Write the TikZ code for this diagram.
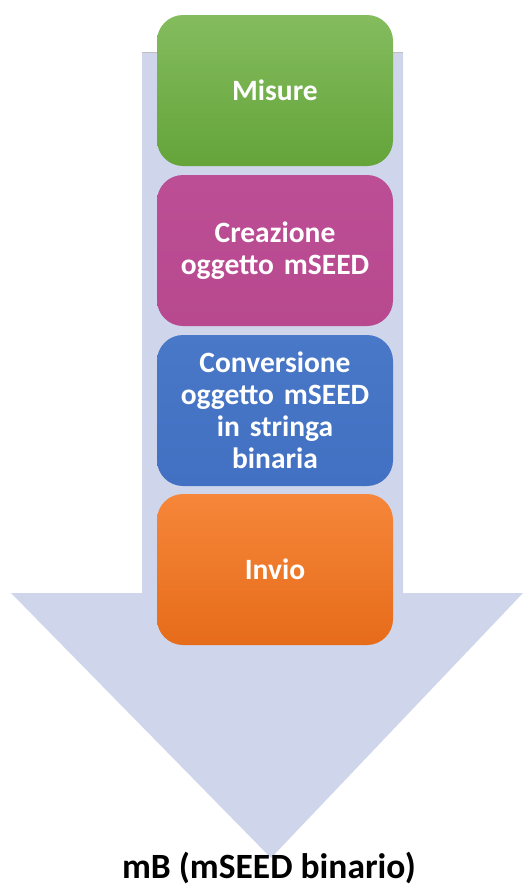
\documentclass[tikz,border=0pt]{standalone}
\usepackage{fontspec}
\setmainfont{Carlito}
\definecolor{arrowfill}{HTML}{CFD5EA}
\definecolor{gtop}{HTML}{84BC5E}
\definecolor{gbot}{HTML}{64A43A}
\definecolor{ptop}{HTML}{BC4E95}
\definecolor{pbot}{HTML}{B8498F}
\definecolor{btop}{HTML}{4A78C8}
\definecolor{bbot}{HTML}{4270C2}
\definecolor{otop}{HTML}{F6863A}
\definecolor{obot}{HTML}{E66C1A}
\tikzset{
  stepbox/.style={rounded corners=26pt, minimum width=236pt, minimum height=151pt,
    inner sep=0pt, align=center, text=white, font=\fontsize{29.5}{32}\selectfont\bfseries,
    text width=230pt}
}
\begin{document}
\begin{tikzpicture}[x=1pt,y=-1pt]
\useasboundingbox (0,0) rectangle (530,889);
% big arrow
\fill[arrowfill] (142,52) -- (403,52) -- (403,593) -- (523,593) -- (271,858) -- (11,593) -- (142,593) -- cycle;
\draw[black!25, line width=0.6pt] (142,52) -- (403,52);
% boxes
\node[stepbox, top color=gtop, bottom color=gbot] (misure) at (275,90.5) {Misure};
\node[stepbox, top color=ptop, bottom color=pbot] (creazione) at (275,250.5) {Creazione\\oggetto mSEED};
\node[stepbox, top color=btop, bottom color=bbot] (conversione) at (275,410.5) {Conversione\\oggetto mSEED\\in stringa\\binaria};
\node[stepbox, top color=otop, bottom color=obot] (invio) at (275,569.5) {Invio};
% label
\node[font=\fontsize{35.5}{38}\selectfont\bfseries, text=black, inner sep=0pt] (mb) at (269,868) {mB (mSEED binario)};
\end{tikzpicture}
\end{document}
